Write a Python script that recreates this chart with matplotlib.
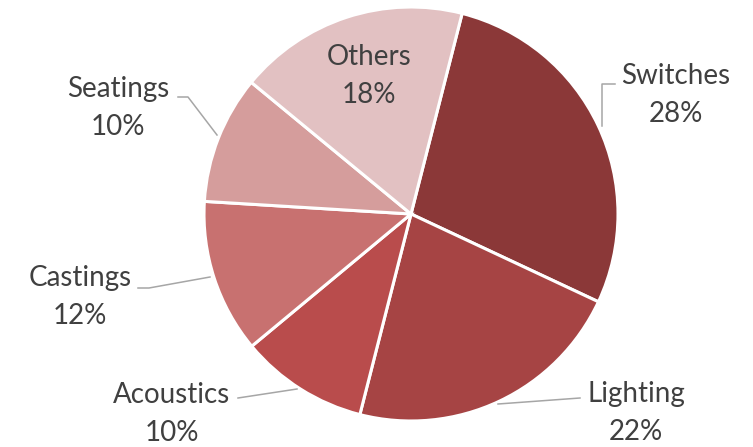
import matplotlib
matplotlib.use("Agg")
import matplotlib.pyplot as plt

categories = ["Switches", "Lighting", "Acoustics", "Castings", "Seatings", "Others"]
values = [28, 22, 10, 12, 10, 18]
colors = ["#8B3838", "#A64444", "#B94C4C", "#C87170", "#D59D9C", "#E2C1C2"]

W, H = 753, 447
fig = plt.figure(figsize=(W / 100, H / 100), dpi=100)
ax = fig.add_axes([0, 0, 1, 1])

cx, cy, r = 411, H - 214, 207
ax.pie(values, colors=colors, startangle=75.7, counterclock=False,
       center=(cx, cy), radius=r, frame=True,
       wedgeprops=dict(edgecolor="white", linewidth=2.2))
ax.set_xlim(0, W)
ax.set_ylim(0, H)
ax.set_aspect("equal")
ax.axis("off")

# label positions (pixel coords from top) and leader lines
label_pos = {
    "Switches": (676, 95),
    "Lighting": (636, 413),
    "Acoustics": (172, 414),
    "Castings": (80, 297),
    "Seatings": (118, 108),
    "Others": (369, 76),
}
leaders = {
    "Switches": [(602, 126), (602, 84), (615, 84)],
    "Lighting": [(498, 404), (580, 398)],
    "Acoustics": [(297, 389), (238, 398)],
    "Castings": [(210, 277), (149, 288), (138, 288)],
    "Seatings": [(217, 135), (188, 97), (178, 97)],
}
tc = "#404040"
for cat, v in zip(categories, values):
    x, y = label_pos[cat]
    ax.text(x, H - y, f"{cat}\n{v}%", ha="center", va="center",
            fontsize=20, color=tc, family="Lato", linespacing=1.6)
for cat, pts in leaders.items():
    xs = [p[0] for p in pts]
    ys = [H - p[1] for p in pts]
    ax.plot(xs, ys, color="#A6A6A6", lw=1.1)

fig.savefig("out.png", dpi=100, facecolor="white")
